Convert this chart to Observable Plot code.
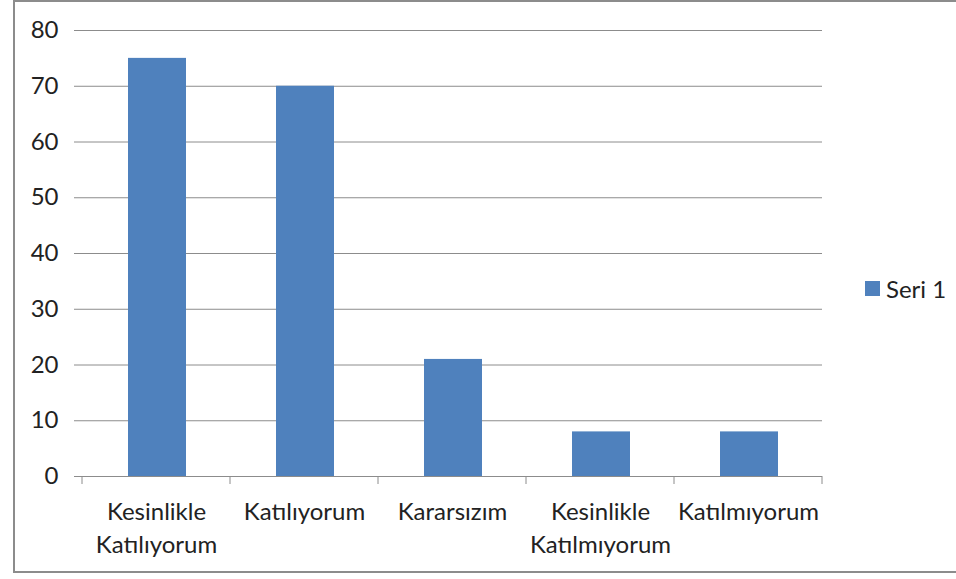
<!DOCTYPE html>
<html>
<head>
<meta charset="utf-8">
<script src="https://cdn.jsdelivr.net/npm/d3@7"></script>
<script src="https://cdn.jsdelivr.net/npm/@observablehq/plot@0.6"></script>
<style>
  html, body { margin: 0; padding: 0; background: #fff; }
  #wrap { position: relative; width: 956px; height: 579px; overflow: hidden; font-family: Lato, "Open Sans", sans-serif; }
  #border { position: absolute; left: 13px; top: 0px; width: 1000px; height: 573px; border: 2px solid #8c8c8c; box-sizing: border-box; }
  #chart { position: absolute; left: 0; top: 0; }
  #legend { position: absolute; left: 865px; top: 274px; display: flex; align-items: center; font-size: 24px; color: #222; }
  #legend .sw { width: 15px; height: 15px; margin-right: 6px; }
</style>
</head>
<body>
<div id="wrap">
  <div id="border"></div>
  <div id="chart"></div>
  <div id="legend"></div>
</div>
<script>
const categories = ["Kesinlikle\nKatılıyorum", "Katılıyorum", "Kararsızım", "Kesinlikle\nKatılmıyorum", "Katılmıyorum"];
const values = [75, 70, 21, 8, 8];
const seriesName = "Seri 1";
const yTicks = [0, 10, 20, 30, 40, 50, 60, 70, 80];
const barColor = "#4F81BD";
const lineColor = "#8c8c8c";
const textColor = "#222";

const data = categories.map((c, i) => ({category: c, value: values[i]}));

const chart = Plot.plot({
  width: 956,
  height: 579,
  marginLeft: 82,
  marginRight: 134,
  marginTop: 30,
  marginBottom: 103,
  style: {fontFamily: "Lato, 'Open Sans', sans-serif", fontSize: "24px", color: textColor, background: "transparent"},
  x: {domain: categories, padding: 0, label: null},
  y: {domain: [0, 80], label: null},
  marks: [
    Plot.gridY(yTicks, {stroke: lineColor, strokeOpacity: 1}),
    Plot.barY(data, {x: "category", y: "value", fill: barColor, insetLeft: 46, insetRight: 44}),
    Plot.ruleX([0], {frameAnchor: "left", stroke: lineColor}),
    Plot.axisY({ticks: yTicks, tickSize: 8, tickPadding: 16, stroke: lineColor, fill: textColor, fontSize: 24, label: null}),
    Plot.axisX({tickSize: 0, tickPadding: 20, lineHeight: 1.38, lineAnchor: "top", fill: textColor, fontSize: 24, label: null}),
    Plot.ruleY([0], {stroke: lineColor})
  ]
});

document.getElementById("chart").appendChild(chart);

// category boundary tick marks below the x axis, from the library's x and y scales
const xs = chart.scale("x");
const ys = chart.scale("y");
const y0 = ys.apply(0);
const bounds = categories.map(c => xs.apply(c)).concat([xs.apply(categories[categories.length - 1]) + xs.bandwidth]);
const svg = d3.select(chart);
svg.append("g").selectAll("line").data(bounds).join("line")
  .attr("x1", d => d).attr("x2", d => d)
  .attr("y1", y0).attr("y2", y0 + 8)
  .attr("stroke", lineColor);

const legend = document.getElementById("legend");
legend.innerHTML = `<div class="sw" style="background:${barColor}"></div><span>${seriesName}</span>`;
</script>
</body>
</html>
